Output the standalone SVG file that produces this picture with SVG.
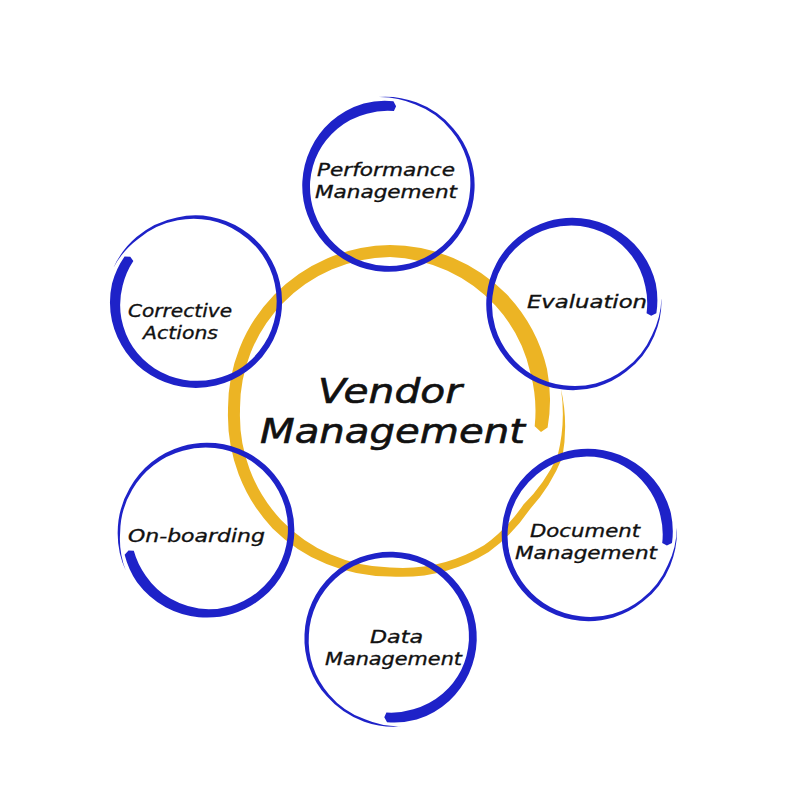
<svg xmlns="http://www.w3.org/2000/svg" width="800" height="797" viewBox="0 0 800 797">
<defs>
<style>
.ring{fill:#1E22C8}
.core{fill:#ECB424}
.lbl{font-family:"DejaVu Sans","Noto Sans",sans-serif;font-style:italic;fill:#111;stroke:#111;stroke-width:0.35px;text-anchor:start}
.s{font-size:18px}
.b{font-size:34px;stroke-width:0.6px}
</style>
<path id="brush" d="M77,1 L82,3 L87,0 A88 88 0 0 0 83.2,-30.3 A89 89 0 0 0 62.9,-62.9 A89 89 0 0 0 0,-89 A88.5 88.5 0 0 0 -62.6,-62.6 A88 88 0 0 0 -88,0 A88 88 0 0 0 -62,62 A87.75 87.75 0 0 0 0,87.75 A88 88 0 0 0 62.6,62.6 A89 89 0 0 0 87.2,23.4 A91 91 0 0 0 90.6,-16 A89 89 0 0 1 84.8,22.7 A86 86 0 0 1 60.5,60.5 A84 84 0 0 1 0,83.25 A83 83 0 0 1 -58.2,58.2 A82 82 0 0 1 -82,0 A82 82 0 0 1 -57.6,-57.6 A81 81 0 0 1 0,-81 A80 80 0 0 1 55.9,-55.9 A78 78 0 0 1 72.8,-26.5 A77 77 0 0 1 77,1 Z"/>
</defs>
<rect width="800" height="797" fill="#fff"/>
<g id="connectors"/>
<g id="vendor-management">
<path class="core" d="M561,389 A173 173 0 0 1 562.4,457.2 A175 175 0 0 1 530.1,509.1 A171 171 0 0 1 488.7,551.9 A168 168 0 0 1 390,576.5 A166 166 0 0 1 272.6,528.4 A164 164 0 0 1 228,411 A163 163 0 0 1 274,295 A165 165 0 0 1 390,245 A165 165 0 0 1 506.7,294.3 A163 163 0 0 1 547,368.9 A160 160 0 0 1 547.6,427.6 L541,432 L534.7,426.2 A145 145 0 0 0 530.5,373.3 A147 147 0 0 0 495.4,305.6 A152 152 0 0 0 390,257 A153 153 0 0 0 282.5,303.5 A151 151 0 0 0 240,411 A152 152 0 0 0 281.1,519.9 A155 155 0 0 0 390,567.5 A160 160 0 0 0 484.1,545.3 A163 163 0 0 0 523.5,504.5 A168 168 0 0 0 557.6,455.9 A171 171 0 0 0 561,389 Z"/>
<text class="lbl b" x="318" y="403" textLength="144" lengthAdjust="spacingAndGlyphs">Vendor</text>
<text class="lbl b" x="260" y="443" textLength="265" lengthAdjust="spacingAndGlyphs">Management</text>
</g>
<g id="performance-management">
<use href="#brush" class="ring" transform="translate(389,186) rotate(-87) scale(0.975)"/>
<text class="lbl s" x="317" y="176" textLength="138" lengthAdjust="spacingAndGlyphs">Performance</text>
<text class="lbl s" x="315" y="198" textLength="142" lengthAdjust="spacingAndGlyphs">Management</text>
</g>
<g id="evaluation">
<use href="#brush" class="ring" transform="translate(572,304.5) rotate(6) scale(0.975)"/>
<text class="lbl s" x="527" y="308" textLength="120" lengthAdjust="spacingAndGlyphs">Evaluation</text>
</g>
<g id="document-management">
<use href="#brush" class="ring" transform="translate(587.5,535.5) rotate(5) scale(0.975)"/>
<text class="lbl s" x="530" y="537" textLength="110" lengthAdjust="spacingAndGlyphs">Document</text>
<text class="lbl s" x="515" y="559" textLength="142" lengthAdjust="spacingAndGlyphs">Management</text>
</g>
<g id="data-management">
<use href="#brush" class="ring" transform="translate(390,637.5) rotate(92) scale(0.975)"/>
<text class="lbl s" x="370" y="643" textLength="53" lengthAdjust="spacingAndGlyphs">Data</text>
<text class="lbl s" x="325" y="665" textLength="137" lengthAdjust="spacingAndGlyphs">Management</text>
</g>
<g id="on-boarding">
<use href="#brush" class="ring" transform="translate(207,529.5) rotate(163) scale(0.99)"/>
<text class="lbl s" x="128" y="542" textLength="137" lengthAdjust="spacingAndGlyphs">On-boarding</text>
</g>
<g id="corrective-actions">
<use href="#brush" class="ring" transform="translate(196.5,301.5) rotate(212) scale(0.975)"/>
<text class="lbl s" x="128" y="317" textLength="104" lengthAdjust="spacingAndGlyphs">Corrective</text>
<text class="lbl s" x="143" y="339" textLength="75" lengthAdjust="spacingAndGlyphs">Actions</text>
</g>
</svg>
